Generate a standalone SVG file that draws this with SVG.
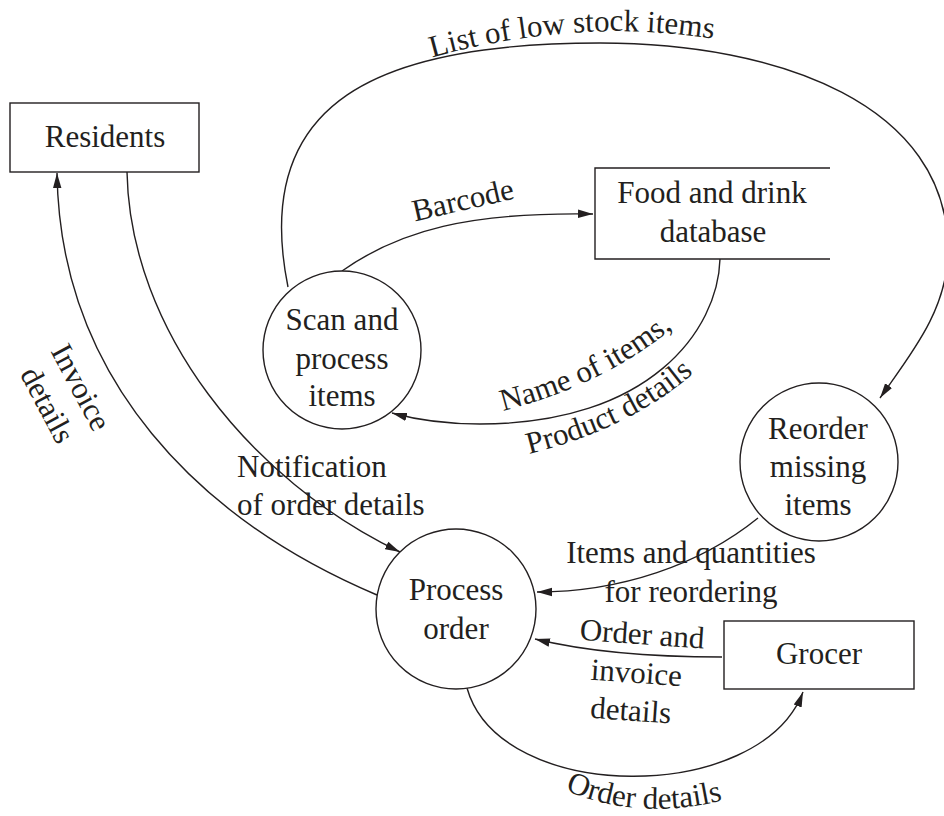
<svg xmlns="http://www.w3.org/2000/svg" width="944" height="816" viewBox="0 0 944 816">
<style>
text{font-family:"Liberation Serif","Times New Roman",serif;font-size:31px;fill:#231f20}
.m{text-anchor:middle}
.box,.node{fill:#fff;stroke:#231f20;stroke-width:1.4}
.open{fill:none;stroke:#231f20;stroke-width:1.4}
.c{fill:none;stroke:#231f20;stroke-width:1.4}
.a{marker-end:url(#arr)}
</style>
<defs>
<marker id="arr" markerWidth="16" markerHeight="10" refX="15" refY="5" orient="auto" markerUnits="userSpaceOnUse"><path d="M0,0.8 L15,5 L0,9.2 z" fill="#231f20"/></marker>
<path id="pList" d="M430,58 Q590,13 742,44"/>
<path id="pName" d="M503,411 Q610,384 686,317"/>
<path id="pProd" d="M529,454 Q633,428 697,370"/>
<path id="pOrd" d="M565,790 Q645,825 742,795"/>
</defs>

<g id="connectors">
<path class="c a" d="M288,287 C250,100 380,43 600,43 C780,43 948,105 948,250 C948,310 910,355 880,398"/>
<path class="c a" d="M342,271 C400,230 470,212 593,214"/>
<path class="c a" d="M720,259 C718,330 650,424 480,424 C440,424 410,418 392,413"/>
<path class="c a" d="M127,172 C130,330 250,480 400,552"/>
<path class="c a" d="M377,595 C200,520 60,380 57,173"/>
<path class="c a" d="M758,518 C700,565 620,592 537,592"/>
<path class="c a" d="M722,657 C640,657 580,650 535,639"/>
<path class="c a" d="M467,688 C500,805 760,805 803,692"/>
</g>

<g id="labels">
<text><textPath href="#pList" startOffset="2">List of low stock items</textPath></text>
<text class="m" transform="translate(465,210) rotate(-13)">Barcode</text>
<text><textPath href="#pName">Name of items,</textPath></text>
<text><textPath href="#pProd">Product details</textPath></text>
<g transform="translate(72,392) rotate(62)">
<text class="m" x="0" y="0">Invoice</text>
<text class="m" x="0" y="38">details</text>
</g>
<text x="237" y="477">Notification</text>
<text x="237" y="515">of order details</text>
<text class="m" x="691" y="563">Items and quantities</text>
<text class="m" x="691" y="602">for reordering</text>
<g transform="rotate(4 637 680)">
<text class="m" x="639" y="644">Order and</text>
<text class="m" x="636" y="683">invoice</text>
<text class="m" x="633" y="721">details</text>
</g>
<text><textPath href="#pOrd">Order details</textPath></text>
</g>

<g id="residents">
<rect class="box" x="10" y="103" width="189" height="69"/>
<text class="m" x="105" y="147">Residents</text>
</g>
<g id="food-db">
<path class="open" d="M830,168 H595 V259 H830"/>
<text class="m" x="712" y="203">Food and drink</text>
<text class="m" x="713" y="242">database</text>
</g>
<g id="grocer">
<rect class="box" x="724" y="621" width="190" height="68"/>
<text class="m" x="819" y="664">Grocer</text>
</g>
<g id="scan">
<circle class="node" cx="342" cy="350" r="79"/>
<text class="m" x="342" y="330">Scan and</text>
<text class="m" x="342" y="369">process</text>
<text class="m" x="342" y="406">items</text>
</g>
<g id="reorder">
<circle class="node" cx="819" cy="462" r="79"/>
<text class="m" x="818" y="439">Reorder</text>
<text class="m" x="818" y="477">missing</text>
<text class="m" x="818" y="515">items</text>
</g>
<g id="process-order">
<circle class="node" cx="456" cy="609" r="80"/>
<text class="m" x="456" y="600">Process</text>
<text class="m" x="456" y="639">order</text>
</g>
</svg>
